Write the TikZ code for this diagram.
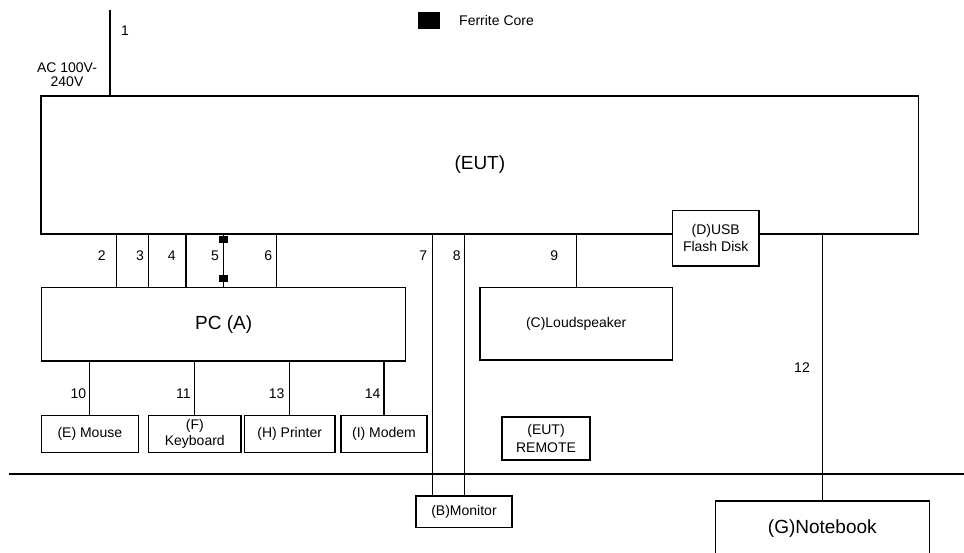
\documentclass[tikz,border=0pt]{standalone}
\usepackage{fontspec}
\setmainfont{Liberation Sans}
\begin{document}
\begin{tikzpicture}[x=1pt,y=-1pt,
  lw/.style={line width=1.2pt},
  box/.style={draw,lw,inner sep=0pt,align=center,font=\fontsize{14}{17}\selectfont},
  bigbox/.style={box,font=\fontsize{19}{22}\selectfont},
  lbl/.style={inner sep=0pt,font=\fontsize{14}{16}\selectfont},
  core/.style={fill=black,draw=none,inner sep=0pt,minimum width=9pt,minimum height=7pt}]
\useasboundingbox (0,0) rectangle (964,553);
% boxes
\node[bigbox,minimum width=877.7pt,minimum height=138pt] (eut) at (479.85,165) {(EUT)};
\node[bigbox,minimum width=364pt,minimum height=73.7pt] (pc) at (223.6,324.2) {PC (A)};
\node[box,fill=white,minimum width=86.7pt,minimum height=55.3pt] (usb) at (715.7,238.3) {(D)USB\\Flash Disk};
\node[box,minimum width=192.3pt,minimum height=72.7pt] (spk) at (576.2,323.7) {(C)Loudspeaker};
\node[box,minimum width=97pt,minimum height=37pt] (mouse) at (89.8,434.2) {(E) Mouse};
\node[box,minimum width=92.5pt,minimum height=37pt,font=\fontsize{14}{16}\selectfont] (kbd) at (194.8,434.2) {(F)\\Keyboard};
\node[box,minimum width=90.7pt,minimum height=37pt] (prn) at (289.7,434.2) {(H) Printer};
\node[box,minimum width=86pt,minimum height=37pt] (modem) at (384,434.2) {(I) Modem};
\node[box,minimum width=88pt,minimum height=43pt,font=\fontsize{14}{18}\selectfont] (remote) at (546,438.5) {(EUT)\\REMOTE};
\node[box,minimum width=96pt,minimum height=31.7pt] (mon) at (464,511.8) {(B)Monitor};
\node[bigbox,minimum width=214pt,minimum height=56pt] (nb) at (822.3,529) {(G)Notebook};
% legend
\node[core,minimum width=22pt,minimum height=17pt] (legcore) at (429,20.7) {};
\node[lbl,anchor=west] (legtxt) at (459,20) {Ferrite Core};
% ground line
\coordinate (g1) at (9,474);
\coordinate (g2) at (964,474);
\draw[lw] (g1) -- (g2);
% mains
\coordinate (ac) at (110,10);
\draw[lw] (ac) -- (ac |- eut.north);
\node[lbl] (l1) at (125,31) {1};
\node[lbl,align=center,font=\fontsize{14}{14}\selectfont] (acl) at (67,75) {AC 100V-\\240V};
% EUT to PC
\draw[lw] (116.7,0 |- eut.south) -- (116.7,0 |- pc.north);
\draw[lw] (148.7,0 |- eut.south) -- (148.7,0 |- pc.north);
\draw[lw] (186,0 |- eut.south) -- (186,0 |- pc.north);
\draw[lw] (223.3,0 |- eut.south) -- (223.3,0 |- pc.north);
\draw[lw] (276.7,0 |- eut.south) -- (276.7,0 |- pc.north);
\node[core] (fc1) at (223.3,240) {};
\node[core] (fc2) at (223.3,279) {};
\node[lbl] (l2) at (101.7,255.7) {2};
\node[lbl] (l3) at (140,255.7) {3};
\node[lbl] (l4) at (171.7,255.7) {4};
\node[lbl] (l5) at (215,255.7) {5};
\node[lbl] (l6) at (268.3,255.7) {6};
% EUT to monitor, speaker, notebook
\draw[lw] (432.3,0 |- eut.south) -- (432.3,0 |- mon.north);
\draw[lw] (464.3,0 |- eut.south) -- (464.3,0 |- mon.north);
\draw[lw] (spk.north |- eut.south) -- (spk.north);
\draw[lw] (nb.north |- eut.south) -- (nb.north);
\node[lbl] (l7) at (423.3,255.7) {7};
\node[lbl] (l8) at (456.7,255.7) {8};
\node[lbl] (l9) at (554.3,255.7) {9};
\node[lbl] (l12) at (802,368) {12};
% PC to peripherals
\draw[lw] (mouse.north |- pc.south) -- (mouse.north);
\draw[lw] (kbd.north |- pc.south) -- (kbd.north);
\draw[lw] (prn.north |- pc.south) -- (prn.north);
\draw[lw] (modem.north |- pc.south) -- (modem.north);
\node[lbl] (l10) at (78.3,393.3) {10};
\node[lbl] (l11) at (183.3,393.3) {11};
\node[lbl] (l13) at (276.7,393.3) {13};
\node[lbl] (l14) at (372.7,393.3) {14};
\end{tikzpicture}
\end{document}
